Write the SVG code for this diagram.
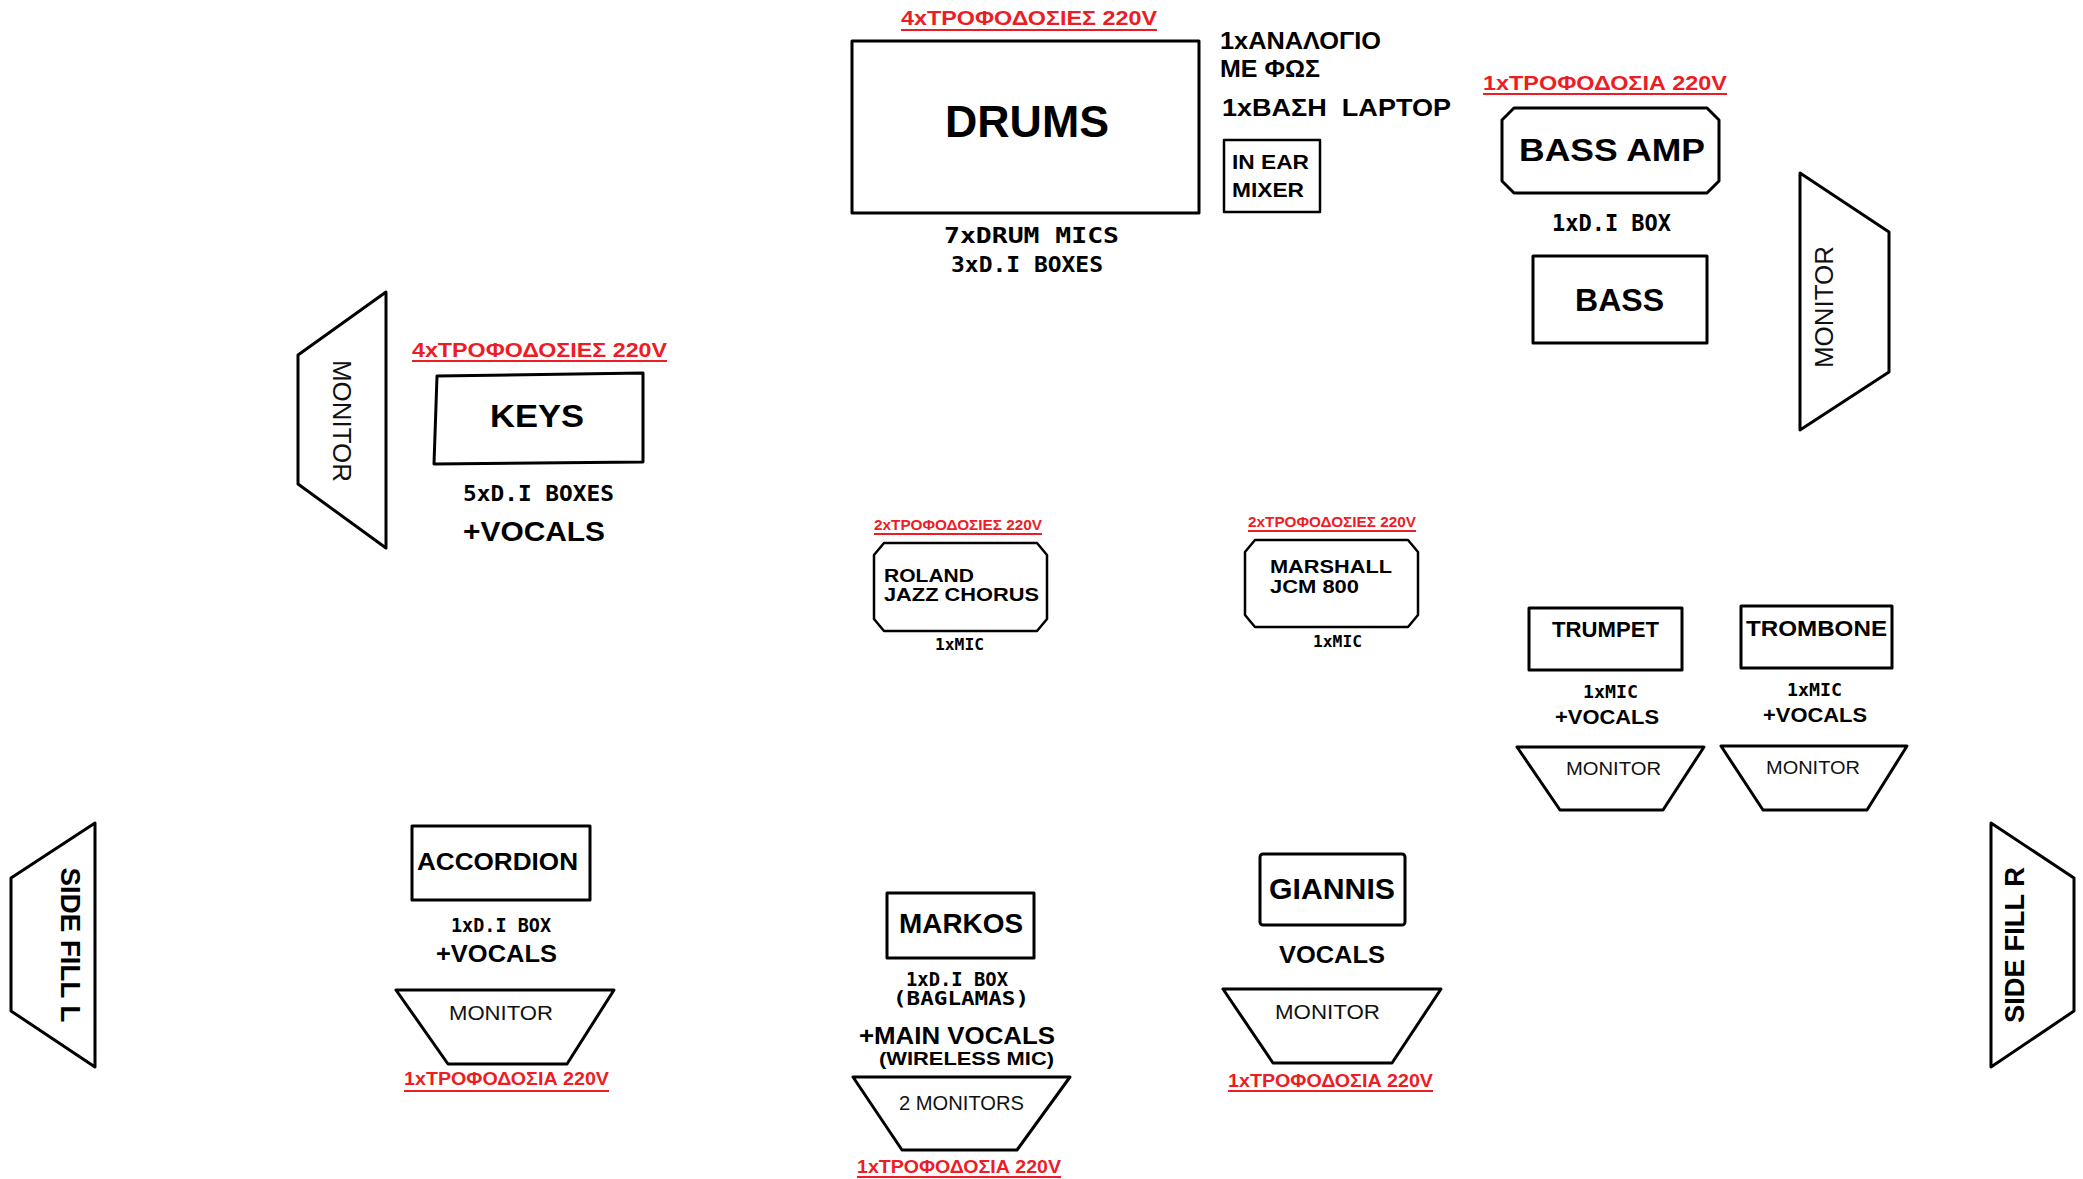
<svg xmlns="http://www.w3.org/2000/svg" width="2083" height="1179" viewBox="0 0 2083 1179">
<defs>
<style>
.box{fill:#fff;stroke:#000;stroke-width:3;stroke-linejoin:round}
.thin{stroke-width:2.5}
.b{font-family:"Liberation Sans",Arial,sans-serif;font-weight:bold;fill:#000}
.m{font-family:"DejaVu Sans Mono","Liberation Mono",monospace;font-weight:bold;fill:#000}
.r{font-family:"Liberation Sans",Arial,sans-serif;font-weight:normal;fill:#111}
.red{font-family:"Liberation Sans",Arial,sans-serif;font-weight:bold;fill:#ee1c24}
.ul{stroke:#ee1c24;stroke-width:2}
</style>
</defs>
<rect width="2083" height="1179" fill="#fff"/>

<g id="connectors"></g>

<g id="drums">
<text class="red" x="901" y="25" font-size="21" textLength="256" lengthAdjust="spacingAndGlyphs">4xΤΡΟΦΟΔΟΣΙΕΣ 220V</text>
<line class="ul" x1="901" y1="30" x2="1157" y2="30"/>
<rect class="box" x="852" y="41" width="347" height="172"/>
<text class="b" x="945" y="137" font-size="44" textLength="164" lengthAdjust="spacingAndGlyphs">DRUMS</text>
<text class="m" x="944" y="243" font-size="22" textLength="175" lengthAdjust="spacingAndGlyphs">7xDRUM MICS</text>
<text class="m" x="951" y="272" font-size="22" textLength="152" lengthAdjust="spacingAndGlyphs">3xD.I BOXES</text>
</g>

<g id="notes">
<text class="b" x="1220" y="49" font-size="24" textLength="161" lengthAdjust="spacingAndGlyphs">1xΑΝΑΛΟΓΙΟ</text>
<text class="b" x="1220" y="77" font-size="24" textLength="100" lengthAdjust="spacingAndGlyphs">ΜΕ ΦΩΣ</text>
<text class="b" x="1222" y="116" font-size="24" textLength="229" lengthAdjust="spacingAndGlyphs" xml:space="preserve">1xΒΑΣΗ  LAPTOP</text>
</g>

<g id="in-ear-mixer">
<rect class="box thin" x="1224" y="140" width="96" height="72"/>
<text class="b" x="1232" y="169" font-size="21" textLength="77" lengthAdjust="spacingAndGlyphs">IN EAR</text>
<text class="b" x="1232" y="197" font-size="21" textLength="72" lengthAdjust="spacingAndGlyphs">MIXER</text>
</g>

<g id="bass-amp">
<text class="red" x="1483" y="90" font-size="21" textLength="244" lengthAdjust="spacingAndGlyphs">1xΤΡΟΦΟΔΟΣΙΑ 220V</text>
<line class="ul" x1="1483" y1="94" x2="1727" y2="94"/>
<polygon class="box" points="1514,108 1707,108 1719,120 1719,181 1707,193 1514,193 1502,181 1502,120"/>
<text class="b" x="1519" y="161" font-size="32" textLength="186" lengthAdjust="spacingAndGlyphs">BASS AMP</text>
<text class="m" x="1552" y="231" font-size="23" textLength="119" lengthAdjust="spacingAndGlyphs">1xD.I BOX</text>
</g>

<g id="bass">
<rect class="box" x="1533" y="256" width="174" height="87"/>
<text class="b" x="1575" y="311" font-size="32" textLength="89" lengthAdjust="spacingAndGlyphs">BASS</text>
</g>

<g id="monitor-right">
<polygon class="box" points="1800,173 1889,232 1889,372 1800,430"/>
<text class="r" transform="translate(1833,307) rotate(-90)" x="0" y="0" font-size="26" text-anchor="middle" textLength="122" lengthAdjust="spacingAndGlyphs">MONITOR</text>
</g>

<g id="monitor-left">
<polygon class="box" points="386,292 298,355 298,484 386,548"/>
<text class="r" transform="translate(333,421) rotate(90)" x="0" y="0" font-size="26" text-anchor="middle" textLength="122" lengthAdjust="spacingAndGlyphs">MONITOR</text>
</g>

<g id="keys">
<text class="red" x="412" y="357" font-size="21" textLength="255" lengthAdjust="spacingAndGlyphs">4xΤΡΟΦΟΔΟΣΙΕΣ 220V</text>
<line class="ul" x1="412" y1="361" x2="667" y2="361"/>
<polygon class="box" points="437,376 643,373 643,462 434,464"/>
<text class="b" x="490" y="427" font-size="32" textLength="94" lengthAdjust="spacingAndGlyphs">KEYS</text>
<text class="m" x="463" y="501" font-size="22" textLength="151" lengthAdjust="spacingAndGlyphs">5xD.I BOXES</text>
<text class="b" x="463" y="541" font-size="27" textLength="142" lengthAdjust="spacingAndGlyphs">+VOCALS</text>
</g>

<g id="roland">
<text class="red" x="874" y="530" font-size="15" textLength="168" lengthAdjust="spacingAndGlyphs">2xΤΡΟΦΟΔΟΣΙΕΣ 220V</text>
<line class="ul" x1="874" y1="534" x2="1042" y2="534"/>
<polygon class="box thin" points="884,543 1037,543 1047,555 1047,619 1037,631 884,631 874,619 874,555"/>
<text class="b" x="884" y="582" font-size="19" textLength="90" lengthAdjust="spacingAndGlyphs">ROLAND</text>
<text class="b" x="884" y="601" font-size="19" textLength="155" lengthAdjust="spacingAndGlyphs">JAZZ CHORUS</text>
<text class="m" x="935" y="650" font-size="16" textLength="49" lengthAdjust="spacingAndGlyphs">1xMIC</text>
</g>

<g id="marshall">
<text class="red" x="1248" y="527" font-size="15" textLength="168" lengthAdjust="spacingAndGlyphs">2xΤΡΟΦΟΔΟΣΙΕΣ 220V</text>
<line class="ul" x1="1248" y1="531" x2="1416" y2="531"/>
<polygon class="box thin" points="1255,540 1408,540 1418,552 1418,615 1408,627 1255,627 1245,615 1245,552"/>
<text class="b" x="1270" y="573" font-size="18" textLength="122" lengthAdjust="spacingAndGlyphs">MARSHALL</text>
<text class="b" x="1270" y="593" font-size="18" textLength="89" lengthAdjust="spacingAndGlyphs">JCM 800</text>
<text class="m" x="1313" y="647" font-size="16" textLength="49" lengthAdjust="spacingAndGlyphs">1xMIC</text>
</g>

<g id="trumpet">
<rect class="box" x="1529" y="608" width="153" height="62"/>
<text class="b" x="1552" y="637" font-size="22" textLength="107" lengthAdjust="spacingAndGlyphs">TRUMPET</text>
<text class="m" x="1583" y="698" font-size="17" textLength="55" lengthAdjust="spacingAndGlyphs">1xMIC</text>
<text class="b" x="1555" y="724" font-size="20" textLength="104" lengthAdjust="spacingAndGlyphs">+VOCALS</text>
<polygon class="box" points="1517,747 1704,747 1663,810 1560,810"/>
<text class="r" x="1566" y="775" font-size="18" textLength="95" lengthAdjust="spacingAndGlyphs">MONITOR</text>
</g>

<g id="trombone">
<rect class="box" x="1741" y="606" width="151" height="62"/>
<text class="b" x="1746" y="636" font-size="22" textLength="141" lengthAdjust="spacingAndGlyphs">TROMBONE</text>
<text class="m" x="1787" y="696" font-size="17" textLength="55" lengthAdjust="spacingAndGlyphs">1xMIC</text>
<text class="b" x="1763" y="722" font-size="20" textLength="104" lengthAdjust="spacingAndGlyphs">+VOCALS</text>
<polygon class="box" points="1721,746 1907,746 1867,810 1763,810"/>
<text class="r" x="1766" y="774" font-size="18" textLength="94" lengthAdjust="spacingAndGlyphs">MONITOR</text>
</g>

<g id="accordion">
<rect class="box" x="412" y="826" width="178" height="74"/>
<text class="b" x="417" y="870" font-size="24" textLength="161" lengthAdjust="spacingAndGlyphs">ACCORDION</text>
<text class="m" x="451" y="932" font-size="19" textLength="100" lengthAdjust="spacingAndGlyphs">1xD.I BOX</text>
<text class="b" x="436" y="962" font-size="23" textLength="121" lengthAdjust="spacingAndGlyphs">+VOCALS</text>
<polygon class="box" points="396,990 614,990 567,1064 448,1064"/>
<text class="r" x="449" y="1020" font-size="21" textLength="104" lengthAdjust="spacingAndGlyphs">MONITOR</text>
<text class="red" x="404" y="1085" font-size="18" textLength="205" lengthAdjust="spacingAndGlyphs">1xΤΡΟΦΟΔΟΣΙΑ 220V</text>
<line class="ul" x1="404" y1="1091" x2="609" y2="1091"/>
</g>

<g id="markos">
<rect class="box" x="887" y="893" width="147" height="65"/>
<text class="b" x="899" y="933" font-size="28" textLength="124" lengthAdjust="spacingAndGlyphs">MARKOS</text>
<text class="m" x="906" y="986" font-size="19" textLength="102" lengthAdjust="spacingAndGlyphs">1xD.I BOX</text>
<text class="m" x="893" y="1005" font-size="19" textLength="136" lengthAdjust="spacingAndGlyphs">(BAGLAMAS)</text>
<text class="b" x="859" y="1044" font-size="24" textLength="196" lengthAdjust="spacingAndGlyphs">+MAIN VOCALS</text>
<text class="b" x="879" y="1065" font-size="19" textLength="175" lengthAdjust="spacingAndGlyphs">(WIRELESS MIC)</text>
<polygon class="box" points="853,1077 1070,1077 1017,1150 902,1150"/>
<text class="r" x="899" y="1110" font-size="20" textLength="125" lengthAdjust="spacingAndGlyphs">2 MONITORS</text>
<text class="red" x="857" y="1173" font-size="19" textLength="204" lengthAdjust="spacingAndGlyphs">1xΤΡΟΦΟΔΟΣΙΑ 220V</text>
<line class="ul" x1="857" y1="1177" x2="1061" y2="1177"/>
</g>

<g id="giannis">
<rect class="box" x="1260" y="854" width="145" height="71" rx="3"/>
<text class="b" x="1269" y="899" font-size="30" textLength="126" lengthAdjust="spacingAndGlyphs">GIANNIS</text>
<text class="b" x="1279" y="963" font-size="23" textLength="106" lengthAdjust="spacingAndGlyphs">VOCALS</text>
<polygon class="box" points="1223,989 1441,989 1392,1063 1273,1063"/>
<text class="r" x="1275" y="1019" font-size="20" textLength="105" lengthAdjust="spacingAndGlyphs">MONITOR</text>
<text class="red" x="1228" y="1087" font-size="18" textLength="205" lengthAdjust="spacingAndGlyphs">1xΤΡΟΦΟΔΟΣΙΑ 220V</text>
<line class="ul" x1="1228" y1="1091" x2="1433" y2="1091"/>
</g>

<g id="side-fill-l">
<polygon class="box" points="95,823 11,878 11,1011 95,1067"/>
<text class="b" transform="translate(61,945) rotate(90)" x="0" y="0" font-size="28" text-anchor="middle" textLength="155" lengthAdjust="spacingAndGlyphs">SIDE FILL L</text>
</g>

<g id="side-fill-r">
<polygon class="box" points="1991,823 2074,878 2074,1011 1991,1067"/>
<text class="b" transform="translate(2024,945) rotate(-90)" x="0" y="0" font-size="28" text-anchor="middle" textLength="156" lengthAdjust="spacingAndGlyphs">SIDE FILL R</text>
</g>
</svg>
